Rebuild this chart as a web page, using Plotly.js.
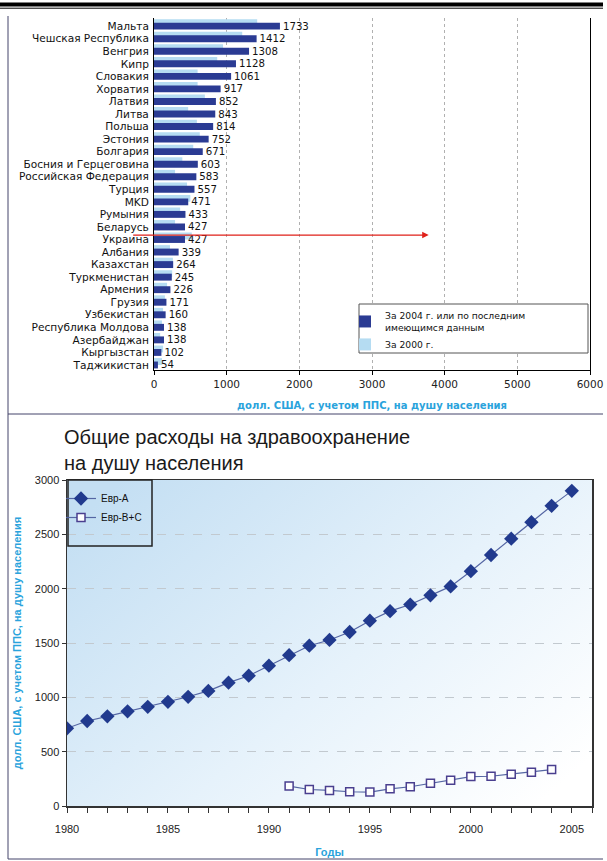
<!DOCTYPE html>
<html>
<head>
<meta charset="utf-8">
<script src="https://cdn.plot.ly/plotly-3.0.1.min.js"></script>
<style>html,body{margin:0;padding:0;background:#fff;}#chart{width:607px;height:861px;}</style>
</head>
<body>
<div id="chart"></div>
<script>
// ---------- Data: top chart ----------
const countries = ["Мальта","Чешская Республика","Венгрия","Кипр","Словакия","Хорватия","Латвия","Литва","Польша","Эстония","Болгария","Босния и Герцеговина","Российская Федерация","Турция","MKD","Румыния","Беларусь","Украина","Албания","Казахстан","Туркменистан","Армения","Грузия","Узбекистан","Республика Молдова","Азербайджан","Кыргызстан","Таджикистан"];
const values2004 = [1733,1412,1308,1128,1061,917,852,843,814,752,671,603,583,557,471,433,427,427,339,264,245,226,171,160,138,138,102,54];
const values2000 = [1420,1214,950,870,600,600,700,470,590,630,540,390,290,455,500,360,290,520,220,260,250,180,150,125,110,85,125,110];
const seriesNames = ["За 2004 г. или по последним<br>имеющимся данным","За 2000 г."];
const xTicks = [0,1000,2000,3000,4000,5000,6000];

// ---------- Data: bottom chart ----------
const yearsA = [1980,1981,1982,1983,1984,1985,1986,1987,1988,1989,1990,1991,1992,1993,1994,1995,1996,1997,1998,1999,2000,2001,2002,2003,2004,2005];
const eurA = [715,782,825,871,913,959,1005,1059,1135,1199,1291,1388,1475,1528,1601,1705,1793,1854,1939,2021,2161,2310,2460,2612,2762,2900];
const yearsBC = [1991,1992,1993,1994,1995,1996,1997,1998,1999,2000,2001,2002,2003,2004];
const eurBC = [183,152,143,131,128,158,177,210,237,271,274,292,310,335];
const lineNames = ["Евр-А","Евр-В+С"];

// ---------- helpers ----------
const W = 607, H = 861;
const px = x => x / W;
const py = y => 1 - y / H;
const frameCol = '#44446a';
const blueTitle = '#2aa3dc';
const fTop = 'DejaVu Sans, Liberation Sans, Arial, sans-serif';
const fBot = 'Liberation Sans, Arial, sans-serif';

const traces = [
  {type:'bar', orientation:'h', y:countries, x:values2000, name:seriesNames[1],
   marker:{color:'#b5dcf2'}, width:0.55, offset:-0.55, xaxis:'x', yaxis:'y',
   legend:'legend', legendrank:2, hoverinfo:'x+y'},
  {type:'bar', orientation:'h', y:countries, x:values2004, name:seriesNames[0],
   marker:{color:'#2b3b93'}, width:0.55, offset:-0.275, xaxis:'x', yaxis:'y',
   text:values2004.map(String), textposition:'outside', cliponaxis:false,
   constraintext:'none',
   textfont:{family:fTop, size:10.2, color:'#111'},
   legend:'legend', legendrank:1, hoverinfo:'x+y'},
  {type:'scatter', mode:'lines+markers', x:yearsA, y:eurA, name:lineNames[0],
   xaxis:'x2', yaxis:'y2', legend:'legend2',
   line:{color:'#5566a3', width:1.2},
   marker:{symbol:'diamond', size:11, color:'#213a8e'}},
  {type:'scatter', mode:'lines+markers', x:yearsBC, y:eurBC, name:lineNames[1],
   xaxis:'x2', yaxis:'y2', legend:'legend2',
   line:{color:'#5566a3', width:1.2},
   marker:{symbol:'square', size:8, color:'#ffffff', line:{color:'#4a3f8f', width:1.5}}}
];

const gradSvg = "<svg xmlns='http://www.w3.org/2000/svg' width='100' height='100' preserveAspectRatio='none'>" +
  "<defs><linearGradient id='g' x1='0' y1='0.15' x2='1' y2='0.85'>" +
  "<stop offset='0' stop-color='#c4dff3'/><stop offset='0.55' stop-color='#e6f2fb'/><stop offset='1' stop-color='#ffffff'/>" +
  "</linearGradient></defs><rect width='100' height='100' fill='url(#g)'/></svg>";

const layout = {
  width: W, height: H,
  margin:{l:0,r:0,t:0,b:0},
  paper_bgcolor:'#ffffff', plot_bgcolor:'rgba(0,0,0,0)',
  showlegend:true,
  barmode:'overlay',
  font:{family:fBot, color:'#222'},
  title:{text:'Общие расходы на здравоохранение<br>на душу населения',
         x:px(64), xanchor:'left', xref:'paper', y:py(444), yanchor:'top', yref:'paper',
         font:{family:fBot, size:20, color:'#1a1a1a'}},
  xaxis:{domain:[px(154), px(590)], anchor:'y', range:[0,6000], tickvals:xTicks,
         showgrid:true, griddash:'dot', gridcolor:'#b0b0b0', gridwidth:1,
         showline:true, linecolor:'#000', linewidth:1, zeroline:false,
         ticks:'outside', ticklen:4, tickcolor:'#000',
         tickfont:{family:fTop, size:10.5, color:'#222'},
         title:{text:'долл. США, с учетом ППС, на душу населения', standoff:13,
                font:{family:fTop, size:10, color:blueTitle, weight:'bold'}}},
  yaxis:{domain:[py(370), py(18)], anchor:'x', type:'category',
         categoryorder:'array', categoryarray:countries,
         tickmode:'array', tickvals:countries, ticktext:countries,
         range:[27.4,-0.65], showgrid:false, zeroline:false,
         showline:true, mirror:true, linecolor:'#000', linewidth:1,
         ticks:'', ticklabelstandoff:2,
         tickfont:{family:fTop, size:10.6, color:'#111'}},
  xaxis2:{domain:[px(67), px(592)], anchor:'y2', range:[1980,2006],
          tick0:1980, dtick:5, showgrid:false, zeroline:false,
          showline:true, mirror:true, linecolor:'#333', linewidth:1.5,
          ticks:'outside', ticklen:5, tickcolor:'#333', ticklabelstandoff:7,
          minor:{dtick:1, ticks:'outside', ticklen:5, tickcolor:'#333', showgrid:false},
          tickfont:{family:fBot, size:11, color:'#222'},
          title:{text:'Годы', standoff:14,
                 font:{family:fBot, size:11, color:blueTitle, weight:'bold'}}},
  yaxis2:{domain:[py(806), py(480)], anchor:'x2', range:[0,3000], dtick:500,
          showgrid:true, griddash:'dash', gridcolor:'#c2c9cf', gridwidth:1,
          zeroline:false, showline:true, mirror:true, linecolor:'#333', linewidth:1.5,
          ticks:'outside', ticklen:4, tickcolor:'#333',
          tickfont:{family:fBot, size:11, color:'#222'},
          title:{text:'долл. США, с учетом ППС, на душу населения', standoff:11,
                 font:{family:fBot, size:11, color:blueTitle, weight:'bold'}}},
  legend:{x:px(345), xanchor:'left', y:py(303), yanchor:'top',
          bgcolor:'rgba(0,0,0,0)', borderwidth:0, tracegroupgap:0,
          font:{family:fTop, size:9.2, color:'#111'}},
  legend2:{x:px(61), xanchor:'left', y:py(484), yanchor:'top',
           bgcolor:'rgba(0,0,0,0)', borderwidth:0,
           font:{family:fBot, size:10, color:'#111'}},
  images:[{source:'data:image/svg+xml;charset=utf-8,' + encodeURIComponent(gradSvg),
           xref:'x2 domain', yref:'y2 domain', x:0, y:1, sizex:1, sizey:1,
           sizing:'stretch', xanchor:'left', yanchor:'top', layer:'below'}],
  annotations:[
    {x:3780, y:16.65, xref:'x', yref:'y', ax:-297, ay:0, axref:'pixel', ayref:'pixel',
     showarrow:true, arrowhead:2, arrowsize:1, arrowwidth:1.3, arrowcolor:'#e0201a', text:''}
  ],
  shapes:[
    {type:'rect', xref:'paper', yref:'paper', x0:0, x1:px(603), y0:py(6.5), y1:py(2.5),
     fillcolor:'#000', line:{width:0}},
    {type:'line', xref:'paper', yref:'paper', x0:0, x1:px(603), y0:py(8.2), y1:py(8.2),
     line:{color:'#000', width:1}},
    {type:'line', xref:'paper', yref:'paper', x0:px(8), x1:px(8), y0:py(16), y1:py(859),
     line:{color:frameCol, width:1}},
    {type:'line', xref:'paper', yref:'paper', x0:px(8), x1:px(603), y0:py(414), y1:py(414),
     line:{color:frameCol, width:1}},
    {type:'line', xref:'paper', yref:'paper', x0:px(8), x1:px(603), y0:py(859), y1:py(859),
     line:{color:frameCol, width:1}},
    {type:'rect', xref:'paper', yref:'paper', x0:px(359), x1:px(588), y0:py(353), y1:py(304),
     fillcolor:'#ffffff', line:{color:'#555', width:1}, layer:'above'},
    {type:'rect', xref:'paper', yref:'paper', x0:px(68), x1:px(152), y0:py(546), y1:py(480),
     fillcolor:'rgba(0,0,0,0)', line:{color:'#222', width:1.5}, layer:'above'}
  ]
};

Plotly.newPlot('chart', traces, layout, {displayModeBar:false, staticPlot:true});
</script>
</body>
</html>
